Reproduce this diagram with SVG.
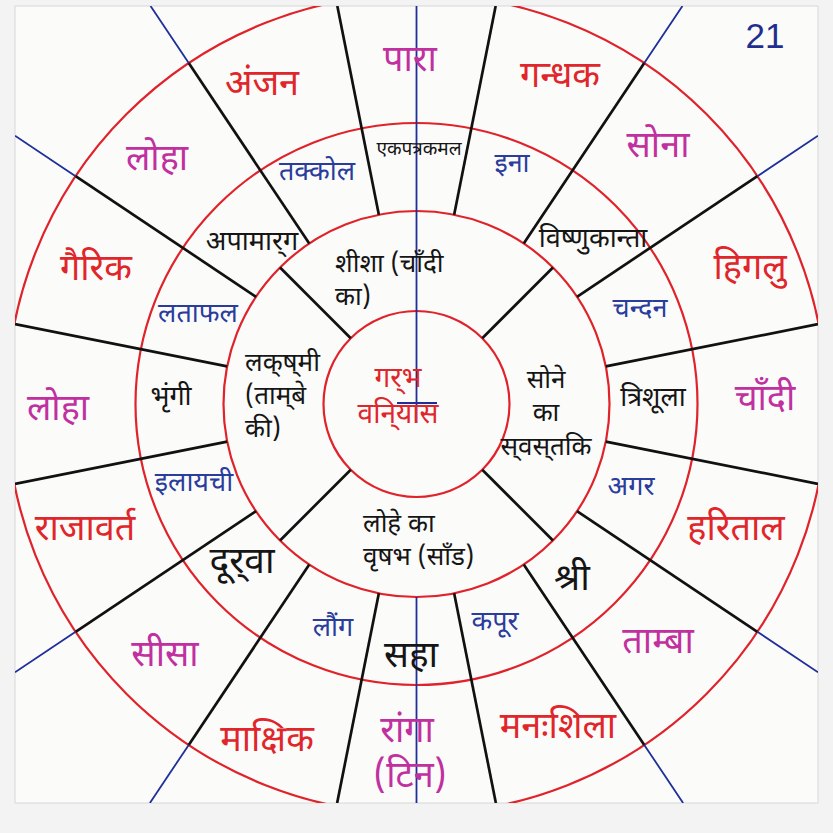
<svg xmlns="http://www.w3.org/2000/svg" width="833" height="833" viewBox="0 0 833 833">
<style>
text{font-family:'Noto Sans Devanagari','Noto Sans','Lohit Devanagari',sans-serif;text-anchor:middle}
.o{font-size:36px}
.m{font-size:27px}
.b{font-size:37px}
.i{font-size:26px;text-anchor:start}
.red{fill:#e0262b}
.mag{fill:#c1309f}
.blu{fill:#2a3c9c}
.blk{fill:#151515}
.ring{fill:none;stroke:#e0222a;stroke-width:2.2}
.bk{stroke:#111;stroke-width:2.7;fill:none}
.bl{stroke:#1f2f9a;stroke-width:1.8;fill:none}
</style>
<defs>
<clipPath id="page"><rect x="15" y="6" width="803" height="797"/></clipPath>
</defs>
<rect x="0" y="0" width="833" height="833" fill="#f3f3f3"/>
<rect x="15" y="6" width="803" height="797" fill="#fbfbfa" stroke="#d8d8d8" stroke-width="1"/>

<g id="rings" clip-path="url(#page)">
<circle class="ring" cx="416.5" cy="404" r="410"/>
<circle class="ring" cx="416.5" cy="404" r="281"/>
<circle class="ring" cx="416.5" cy="404" r="193"/>
<circle class="ring" cx="416.5" cy="404" r="93"/>
</g>

<g id="connectors" clip-path="url(#page)">
<line class="bk" x1="454.15" y1="214.71" x2="495.67" y2="6"/>
<line class="bk" x1="523.73" y1="243.53" x2="644.28" y2="63.10"/>
<line class="bl" x1="644.28" y1="63.10" x2="682.45" y2="6"/>
<line class="bk" x1="576.97" y1="296.77" x2="757.40" y2="176.22"/>
<line class="bl" x1="757.40" y1="176.22" x2="818" y2="135.72"/>
<line class="bk" x1="605.79" y1="366.35" x2="818" y2="324.13"/>
<line class="bk" x1="605.79" y1="441.65" x2="818" y2="483.87"/>
<line class="bk" x1="576.97" y1="511.23" x2="757.40" y2="631.78"/>
<line class="bl" x1="757.40" y1="631.78" x2="818" y2="672.28"/>
<line class="bk" x1="523.73" y1="564.47" x2="644.28" y2="744.90"/>
<line class="bl" x1="644.28" y1="744.90" x2="683.1" y2="803"/>
<line class="bk" x1="454.15" y1="593.29" x2="495.87" y2="803"/>
<line class="bk" x1="378.85" y1="593.29" x2="337.13" y2="803"/>
<line class="bk" x1="309.27" y1="564.47" x2="188.72" y2="744.90"/>
<line class="bl" x1="188.72" y1="744.90" x2="149.9" y2="803"/>
<line class="bk" x1="256.03" y1="511.23" x2="75.60" y2="631.78"/>
<line class="bl" x1="75.60" y1="631.78" x2="15" y2="672.28"/>
<line class="bk" x1="227.21" y1="441.65" x2="15" y2="483.87"/>
<line class="bk" x1="227.21" y1="366.35" x2="15" y2="324.13"/>
<line class="bk" x1="256.03" y1="296.77" x2="75.60" y2="176.22"/>
<line class="bl" x1="75.60" y1="176.22" x2="15" y2="135.72"/>
<line class="bk" x1="309.27" y1="243.53" x2="188.72" y2="63.10"/>
<line class="bl" x1="188.72" y1="63.10" x2="150.55" y2="6"/>
<line class="bk" x1="378.85" y1="214.71" x2="337.33" y2="6"/>
<line class="bk" x1="482.26" y1="338.24" x2="552.97" y2="267.53"/>
<line class="bk" x1="482.26" y1="469.76" x2="552.97" y2="540.47"/>
<line class="bk" x1="350.74" y1="469.76" x2="280.03" y2="540.47"/>
<line class="bk" x1="350.74" y1="338.24" x2="280.03" y2="267.53"/>
<line class="bl" x1="416.5" y1="6" x2="416.5" y2="423"/>
<line class="bl" x1="397" y1="403" x2="437" y2="403" stroke-width="2.4"/>
<line class="bl" x1="416.5" y1="597" x2="416.5" y2="803"/>
</g>

<g id="outer-ring">
<g id="o-para"><text class="o mag" x="410" y="71">पारा</text></g>
<g id="o-gandhak"><text class="o red" x="560" y="87">गन्धक</text></g>
<g id="o-sona"><text class="o mag" x="658" y="157">सोना</text></g>
<g id="o-higalu"><text class="o red" x="750" y="279">हिगलु</text></g>
<g id="o-chandi"><text class="o mag" x="765" y="410">चाँदी</text></g>
<g id="o-haritaal"><text class="o red" x="736" y="540">हरिताल</text></g>
<g id="o-tamba"><text class="o mag" x="658" y="653">ताम्बा</text></g>
<g id="o-manahshila"><text class="o red" x="558" y="738">मनःशिला</text></g>
<g id="o-ranga"><text class="o mag" x="407" y="742">रांगा<tspan x="410" y="787">(टिन)</tspan></text></g>
<g id="o-makshik"><text class="o red" x="267" y="751">माक्षिक</text></g>
<g id="o-seesa"><text class="o mag" x="165" y="666">सीसा</text></g>
<g id="o-rajavart"><text class="o red" x="85" y="540">राजावर्त</text></g>
<g id="o-loha-left"><text class="o mag" x="58" y="420">लोहा</text></g>
<g id="o-gairik"><text class="o red" x="96" y="280">गैरिक</text></g>
<g id="o-loha-top"><text class="o mag" x="157" y="170">लोहा</text></g>
<g id="o-anjan"><text class="o red" x="262" y="95">अंजन</text></g>
</g>

<g id="middle-ring">
<g id="m-ekapatrakamal"><text class="blk" style="font-size:19px" x="419" y="155">एकपत्रकमल</text></g>
<g id="m-ina"><text class="m blu" x="512" y="172">इना</text></g>
<g id="m-vishnukanta"><text class="m blk" x="593" y="247">विष्णुकान्ता</text></g>
<g id="m-chandan"><text class="m blu" x="640" y="317">चन्दन</text></g>
<g id="m-trishula"><text class="m blk" x="653" y="406">त्रिशूला</text></g>
<g id="m-agar"><text class="m blu" x="631" y="495">अगर</text></g>
<g id="m-shri"><text class="b blk" x="572" y="590">श्री</text></g>
<g id="m-kapur"><text class="m blu" x="495" y="630">कपूर</text></g>
<g id="m-saha"><text class="b blk" x="411" y="667">सहा</text></g>
<g id="m-laung"><text class="m blu" x="333" y="636">लौंग</text></g>
<g id="m-durva"><text class="b blk" x="242" y="573">दूर्&#x200C;वा</text></g>
<g id="m-ilayachi"><text class="m blu" x="194" y="491">इलायची</text></g>
<g id="m-bhringi"><text class="m blk" x="171" y="405">भृंगी</text></g>
<g id="m-lataphal"><text class="m blu" x="198" y="322">लताफल</text></g>
<g id="m-apamarg"><text class="m blk" x="252" y="250">अपामार्&#x200C;ग</text></g>
<g id="m-takkol"><text class="m blu" x="317" y="180">तक्कोल</text></g>
</g>

<g id="inner-ring">
<g id="i-sheesha"><text class="i blk" x="335" y="272">शीशा (चाँदी<tspan x="335" y="305">का)</tspan></text></g>
<g id="i-sone"><text class="i blk" x="546" y="388" style="text-anchor:middle">सोने<tspan x="546" y="421">का</tspan><tspan x="546" y="455">स्&#x200C;वस्&#x200C;तकि</tspan></text></g>
<g id="i-lohe"><text class="i blk" x="363" y="532">लोहे का<tspan x="363" y="565">वृषभ (साँड)</tspan></text></g>
<g id="i-lakshmi"><text class="i blk" x="245" y="371">लक्&#x200C;ष्&#x200C;मी<tspan x="245" y="404">(ताम्&#x200C;बे</tspan><tspan x="245" y="437">की)</tspan></text></g>
</g>

<g id="centre">
<text class="red" style="font-size:28px" x="398" y="387">गर्&#x200C;भ<tspan x="398" y="423">वनि्&#x200C;यास</tspan></text>
</g>

<g id="page-number"><text x="765" y="48" style="font-family:'Liberation Sans',Arial,sans-serif;font-size:35px;fill:#1f2f8f">21</text></g>
</svg>
